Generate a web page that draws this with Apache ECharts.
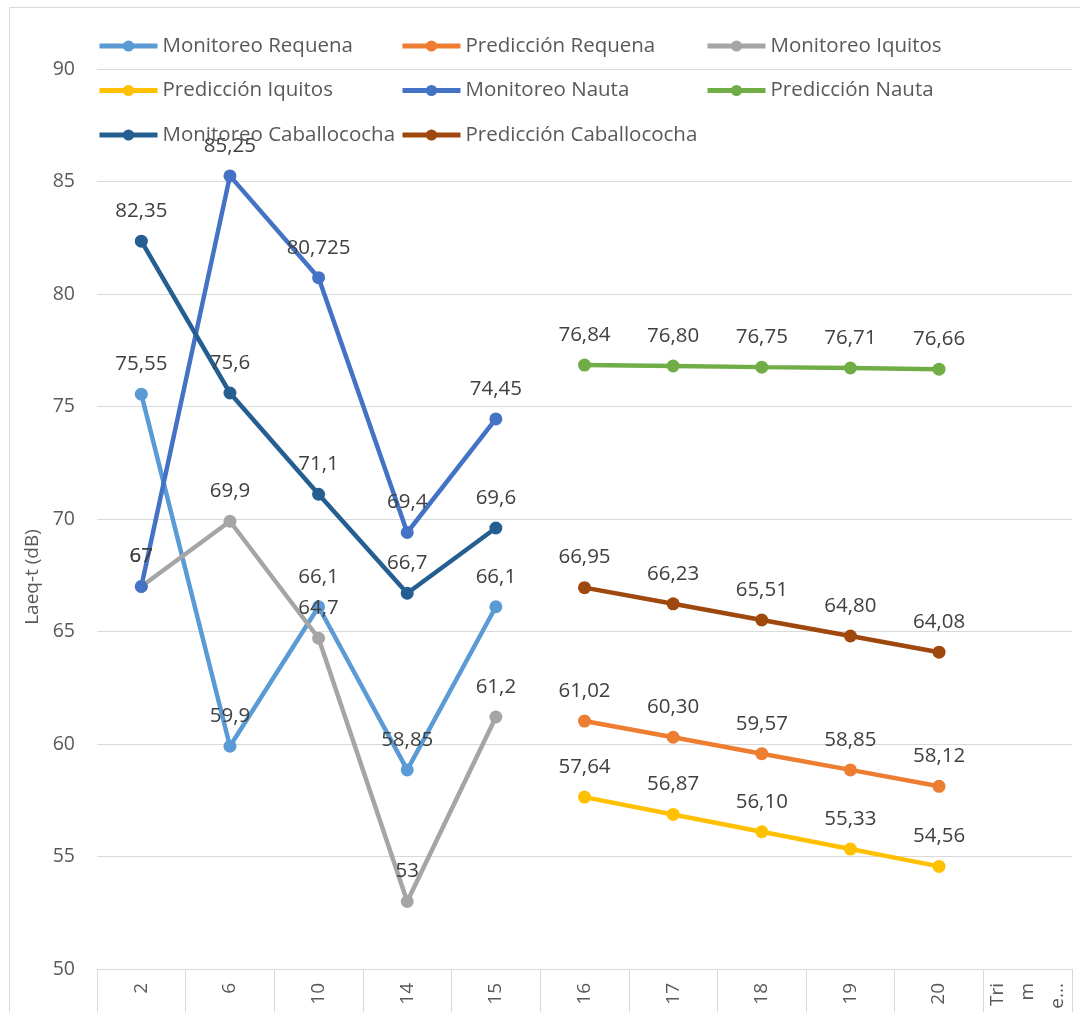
<!DOCTYPE html>
<html>
<head>
<meta charset="utf-8">
<script src="https://cdn.jsdelivr.net/npm/echarts@6/dist/echarts.min.js"></script>
<style>
  html, body { margin: 0; padding: 0; background: #fff; }
  #chart { width: 1080px; height: 1012px; }
</style>
</head>
<body>
<div id="chart"></div>
<script>
// Categories (last one is truncated in the original: "Tri m e...")
const categories = ["2", "6", "10", "14", "15", "16", "17", "18", "19", "20", "Trimestre"]

// Monitoring series (categories 2..15)
const monitoreoRequena = [75.55, 59.9, 66.1, 58.85, 66.1, null, null, null, null, null, null]
const monitoreoIquitos = [67, 69.9, 64.7, 53, 61.2, null, null, null, null, null, null]
const monitoreoNauta = [67, 85.25, 80.725, 69.4, 74.45, null, null, null, null, null, null]
const monitoreoCaballococha = [82.35, 75.6, 71.1, 66.7, 69.6, null, null, null, null, null, null]

// Prediction series (categories 16..20)
const prediccionRequena = [null, null, null, null, null, 61.02, 60.30, 59.57, 58.85, 58.12, null]
const prediccionIquitos = [null, null, null, null, null, 57.64, 56.87, 56.10, 55.33, 54.56, null]
const prediccionNauta = [null, null, null, null, null, 76.84, 76.80, 76.75, 76.71, 76.66, null]
const prediccionCaballococha = [null, null, null, null, null, 66.95, 66.23, 65.51, 64.80, 64.08, null]

const FONT = "Open Sans"

// Series colors (Office palette)
const COLORS = {
  "Monitoreo Requena": "#5B9BD5",
  "Predicción Requena": "#ED7D31",
  "Monitoreo Iquitos": "#A5A5A5",
  "Predicción Iquitos": "#FFC000",
  "Monitoreo Nauta": "#4472C4",
  "Predicción Nauta": "#70AD47",
  "Monitoreo Caballococha": "#255E91",
  "Predicción Caballococha": "#9E480E",
}

const seriesDefs = [
  { name: "Monitoreo Requena", data: monitoreoRequena, decimals: false },
  { name: "Predicción Requena", data: prediccionRequena, decimals: true },
  { name: "Monitoreo Iquitos", data: monitoreoIquitos, decimals: false },
  { name: "Predicción Iquitos", data: prediccionIquitos, decimals: true },
  { name: "Monitoreo Nauta", data: monitoreoNauta, decimals: false },
  { name: "Predicción Nauta", data: prediccionNauta, decimals: true },
  { name: "Monitoreo Caballococha", data: monitoreoCaballococha, decimals: false },
  { name: "Predicción Caballococha", data: prediccionCaballococha, decimals: true },
]

const chart = echarts.init(document.getElementById("chart"))

const legendBase = {
  orient: "vertical",
  top: 35,
  padding: 0,
  itemWidth: 58,
  itemHeight: 14,
  itemGap: 22.5,
  lineStyle: { width: 5 },
  textStyle: { fontFamily: FONT, fontSize: 20.5, color: "#595959", lineHeight: 22 },
}

const option = {
  animation: false,
  backgroundColor: "#fff",
  grid: { left: 97, right: 8, top: 69, bottom: 43, containLabel: false },
  legend: [
    { ...legendBase, left: 97, data: ["Monitoreo Requena", "Predicción Iquitos", "Monitoreo Caballococha"] },
    { ...legendBase, left: 400, data: ["Predicción Requena", "Monitoreo Nauta", "Predicción Caballococha"] },
    { ...legendBase, left: 705, data: ["Monitoreo Iquitos", "Predicción Nauta"] },
  ],
  graphic: [
    {
      type: "rect",
      shape: { x: 9.5, y: 7.5, width: 1100, height: 1100 },
      style: { fill: "none", stroke: "#d9d9d9", lineWidth: 1 },
      silent: true,
    },
    {
      type: "text",
      x: 33,
      y: 577,
      rotation: Math.PI / 2,
      style: {
        text: "Laeq-t (dB)",
        fontFamily: FONT,
        fontSize: 19,
        fill: "#595959",
        textAlign: "center",
        textVerticalAlign: "middle",
      },
    },
  ],
  xAxis: {
    type: "category",
    data: categories,
    boundaryGap: true,
    axisLine: { lineStyle: { color: "#d9d9d9", width: 1 } },
    axisTick: { show: true, length: 45, interval: 0, lineStyle: { color: "#d9d9d9" } },
    axisLabel: {
      interval: 0,
      rotate: 90,
      margin: 14,
      fontFamily: FONT,
      fontSize: 19,
      lineHeight: 30,
      color: "#595959",
      formatter: (v) => (v === "Trimestre" ? "Tri\nm\ne..." : v),
    },
    splitLine: { show: false },
  },
  yAxis: {
    type: "value",
    min: 50,
    max: 90,
    interval: 5,
    axisLine: { show: false },
    axisTick: { show: false },
    axisLabel: { fontFamily: FONT, fontSize: 19.5, color: "#595959", margin: 22 },
    splitLine: { lineStyle: { color: "#d9d9d9", width: 1 } },
  },
  series: seriesDefs.map((s) => ({
    name: s.name,
    type: "line",
    data: s.data,
    connectNulls: false,
    symbol: "circle",
    symbolSize: 13,
    color: COLORS[s.name],
    lineStyle: { width: 4.5, color: COLORS[s.name] },
    itemStyle: { color: COLORS[s.name] },
    label: {
      show: true,
      position: "top",
      distance: 13,
      fontFamily: FONT,
      fontSize: 20.5,
      color: "#404040",
      formatter: (p) =>
        p.value == null ? "" : (s.decimals ? p.value.toFixed(2) : String(p.value)).replace(".", ","),
    },
    labelLayout: { hideOverlap: false },
  })),
}

chart.setOption(option)
</script>
</body>
</html>
